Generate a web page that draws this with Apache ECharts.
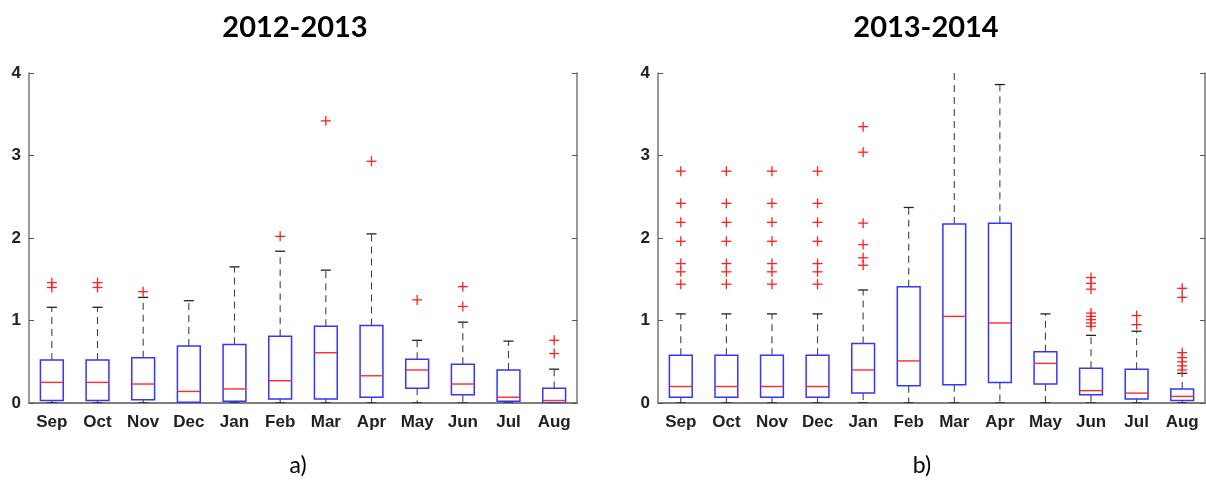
<!DOCTYPE html>
<html>
<head>
<meta charset="utf-8">
<script src="https://cdn.jsdelivr.net/npm/echarts@6/dist/echarts.min.js"></script>
<style>
html, body { margin: 0; padding: 0; background: #fff; }
#main { width: 1206px; height: 484px; }
</style>
</head>
<body>
<div id="main"></div>
<script>
// months on the x axis
const months = ['Sep', 'Oct', 'Nov', 'Dec', 'Jan', 'Feb', 'Mar', 'Apr', 'May', 'Jun', 'Jul', 'Aug'];
const yTicks = [0, 1, 2, 3, 4];

// a) 2012-2013
const lowA  = [0, 0, 0, 0, 0, 0, 0, 0, 0, 0, 0, 0];
const q1A   = [0.03, 0.03, 0.04, 0.01, 0.02, 0.05, 0.05, 0.07, 0.18, 0.10, 0.02, 0.00];
const medA  = [0.25, 0.25, 0.23, 0.14, 0.17, 0.27, 0.61, 0.33, 0.40, 0.23, 0.07, 0.03];
const q3A   = [0.52, 0.52, 0.55, 0.69, 0.71, 0.81, 0.93, 0.94, 0.53, 0.47, 0.40, 0.18];
const highA = [1.16, 1.16, 1.28, 1.24, 1.65, 1.84, 1.61, 2.05, 0.76, 0.98, 0.75, 0.41];
const outA  = [[1.40, 1.46], [1.40, 1.46], [1.35], [], [], [2.02], [3.42], [2.93], [1.25], [1.17, 1.41], [], [0.60, 0.76]];

// b) 2013-2014
const lowB  = [0, 0, 0, 0, 0, 0, 0, 0, 0, 0, 0, 0];
const q1B   = [0.07, 0.07, 0.07, 0.07, 0.12, 0.21, 0.22, 0.25, 0.23, 0.10, 0.05, 0.03];
const medB  = [0.20, 0.20, 0.20, 0.20, 0.40, 0.51, 1.05, 0.97, 0.48, 0.15, 0.12, 0.08];
const q3B   = [0.58, 0.58, 0.58, 0.58, 0.72, 1.41, 2.17, 2.18, 0.62, 0.42, 0.41, 0.17];
const highB = [1.08, 1.08, 1.08, 1.08, 1.37, 2.37, 4.50, 3.86, 1.08, 0.82, 0.87, 0.36];
const outB  = [
    [1.44, 1.59, 1.69, 1.96, 2.19, 2.42, 2.81],
    [1.44, 1.59, 1.69, 1.96, 2.19, 2.42, 2.81],
    [1.44, 1.59, 1.69, 1.96, 2.19, 2.42, 2.81],
    [1.44, 1.59, 1.69, 1.96, 2.19, 2.42, 2.81],
    [1.67, 1.76, 1.92, 2.18, 3.04, 3.35],
    [], [], [], [],
    [0.93, 0.97, 1.01, 1.05, 1.09, 1.38, 1.45, 1.52],
    [0.95, 1.06],
    [0.40, 0.45, 0.50, 0.55, 0.61, 1.28, 1.39]
];

function boxData(lo, q1, md, q3, hi) {
    return months.map((m, i) => [i, lo[i], q1[i], md[i], q3[i], hi[i]]);
}
function outData(out) {
    let res = [];
    out.forEach((list, i) => list.forEach(v => res.push([i, v])));
    return res;
}

function renderBox(params, api) {
    const i = api.value(0);
    const lo = api.coord([i, api.value(1)]);
    const q1 = api.coord([i, api.value(2)]);
    const md = api.coord([i, api.value(3)]);
    const q3 = api.coord([i, api.value(4)]);
    const hi = api.coord([i, api.value(5)]);
    const w = api.size([1, 0])[0] * 0.5;
    const cx = md[0];
    const cap = w * 0.22;
    const dash = { stroke: '#444', lineWidth: 1.1, lineDash: [7, 5] };
    const solid = { stroke: '#222', lineWidth: 1.3 };
    return {
        type: 'group',
        children: [
            { type: 'line', shape: { x1: cx, y1: q3[1], x2: cx, y2: hi[1] }, style: dash },
            { type: 'line', shape: { x1: cx, y1: q1[1], x2: cx, y2: lo[1] }, style: dash },
            { type: 'line', shape: { x1: cx - cap, y1: hi[1], x2: cx + cap, y2: hi[1] }, style: solid },
            { type: 'line', shape: { x1: cx - cap, y1: lo[1], x2: cx + cap, y2: lo[1] }, style: solid },
            { type: 'rect', shape: { x: cx - w / 2, y: q3[1], width: w, height: q1[1] - q3[1] },
              style: { fill: 'none', stroke: '#3535ff', lineWidth: 1.5 } },
            { type: 'line', shape: { x1: cx - w / 2, y1: md[1], x2: cx + w / 2, y2: md[1] },
              style: { stroke: '#ff2a2a', lineWidth: 1.4 } }
        ]
    };
}

function renderPlus(params, api) {
    const p = api.coord([api.value(0), api.value(1)]);
    const s = 5;
    const st = { stroke: '#ff2020', lineWidth: 1.3 };
    return {
        type: 'group',
        children: [
            { type: 'line', shape: { x1: p[0] - s, y1: p[1], x2: p[0] + s, y2: p[1] }, style: st },
            { type: 'line', shape: { x1: p[0], y1: p[1] - s, x2: p[0], y2: p[1] + s }, style: st }
        ]
    };
}

const grids = [
    { left: 29, top: 73, width: 548, height: 330 },
    { left: 658, top: 73, width: 547, height: 330 }
];

let xAxes = [], yAxes = [];
grids.forEach((g, gi) => {
    xAxes.push({
        gridIndex: gi, type: 'category', data: months, position: 'bottom',
        axisLine: { lineStyle: { color: '#777', width: 1.5 } },
        axisTick: { inside: true, alignWithLabel: true, length: 5, lineStyle: { color: '#555' } },
        axisLabel: { color: '#222', fontFamily: 'Liberation Sans', fontWeight: 'bold', fontSize: 17, margin: 11 }
    });
    xAxes.push({
        gridIndex: gi, type: 'category', data: months, position: 'top',
        axisLine: { lineStyle: { color: '#777', width: 1.5 } },
        axisTick: { inside: true, alignWithLabel: true, length: 5, lineStyle: { color: '#555' } },
        axisLabel: { show: false }
    });
    yAxes.push({
        gridIndex: gi, type: 'value', min: yTicks[0], max: yTicks[yTicks.length - 1], interval: 1, position: 'left',
        axisLine: { show: true, lineStyle: { color: '#777', width: 1.5 } },
        axisTick: { show: true, inside: true, length: 5, lineStyle: { color: '#555' } },
        splitLine: { show: false },
        axisLabel: { color: '#222', fontFamily: 'Liberation Sans', fontWeight: 'bold', fontSize: 17, margin: 8 }
    });
    yAxes.push({
        gridIndex: gi, type: 'value', min: yTicks[0], max: yTicks[yTicks.length - 1], interval: 1, position: 'right',
        axisLine: { show: true, lineStyle: { color: '#777', width: 1.5 } },
        axisTick: { show: true, inside: true, length: 5, lineStyle: { color: '#555' } },
        splitLine: { show: false },
        axisLabel: { show: false }
    });
});

const sets = [
    { box: boxData(lowA, q1A, medA, q3A, highA), out: outData(outA) },
    { box: boxData(lowB, q1B, medB, q3B, highB), out: outData(outB) }
];

let series = [];
sets.forEach((s, gi) => {
    series.push({
        type: 'custom', xAxisIndex: gi * 2, yAxisIndex: gi * 2, clip: true,
        renderItem: renderBox, encode: { x: 0, y: [1, 2, 3, 4, 5] }, data: s.box
    });
    series.push({
        type: 'custom', xAxisIndex: gi * 2, yAxisIndex: gi * 2, clip: true,
        renderItem: renderPlus, encode: { x: 0, y: 1 }, data: s.out
    });
});

const titleStyle = { fontFamily: 'Lato', fontWeight: 'bold', fontSize: 29, fill: '#000', textAlign: 'center', textVerticalAlign: 'middle' };
const subStyle = { fontFamily: 'Lato', fontSize: 23, fill: '#000', textAlign: 'center', textVerticalAlign: 'middle' };

let chart = echarts.init(document.getElementById('main'));
chart.setOption({
    animation: false,
    grid: grids,
    xAxis: xAxes,
    yAxis: yAxes,
    series: series,
    graphic: [
        { type: 'text', x: 295, y: 28, style: Object.assign({ text: '2012-2013' }, titleStyle) },
        { type: 'text', x: 926, y: 28, style: Object.assign({ text: '2013-2014' }, titleStyle) },
        { type: 'text', x: 298, y: 466, style: Object.assign({ text: 'a)' }, subStyle) },
        { type: 'text', x: 922, y: 466, style: Object.assign({ text: 'b)' }, subStyle) }
    ]
});
</script>
</body>
</html>
